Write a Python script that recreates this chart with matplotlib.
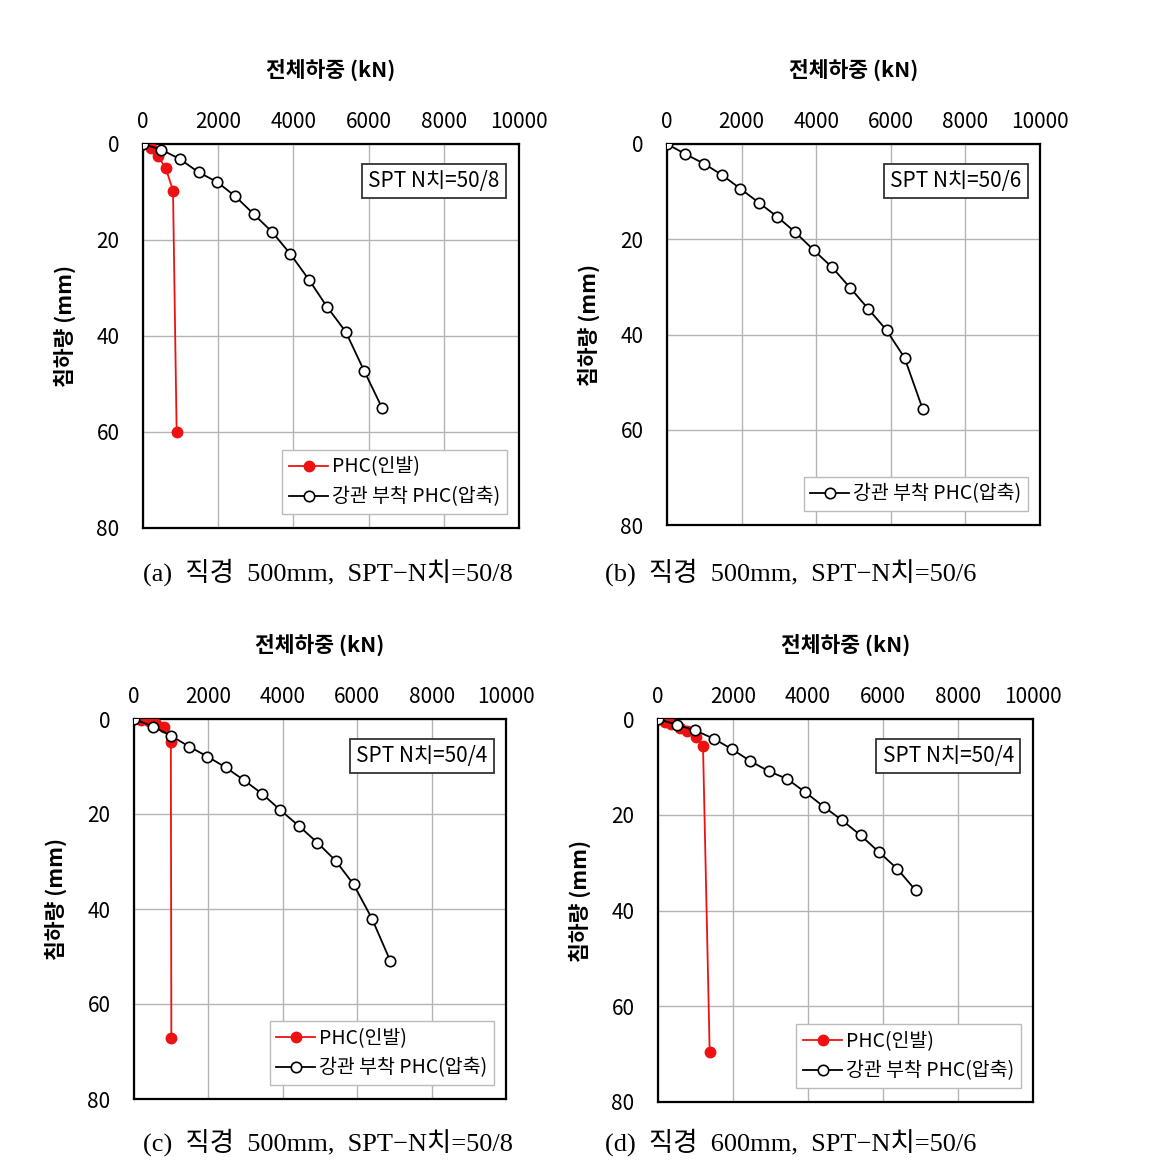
import matplotlib
matplotlib.use("Agg")
import matplotlib.pyplot as plt

plt.rcParams['font.family'] = ['Noto Sans CJK KR', 'DejaVu Sans']

# (a) 직경 500mm, SPT-N치=50/8
a_red_x = [0, 204, 399, 603, 798, 895]
a_red_y = [0, 0.8, 2.6, 5.0, 9.7, 60.1]
a_blk_x = [0, 488, 975, 1480, 1968, 2456, 2943, 3431, 3918, 4415, 4902, 5390, 5878, 6365]
a_blk_y = [0, 1.2, 3.1, 5.9, 7.9, 10.9, 14.6, 18.3, 22.9, 28.3, 34.0, 39.1, 47.2, 55.1]

# (b) 직경 500mm, SPT-N치=50/6
b_blk_x = [0, 490, 984, 1476, 1968, 2460, 2960, 3435, 3935, 4428, 4911, 5394, 5886, 6369, 6852]
b_blk_y = [0, 2.1, 4.1, 6.5, 9.4, 12.3, 15.3, 18.5, 22.3, 25.9, 30.2, 34.6, 39.1, 44.9, 55.6]

# (c)
c_red_x = [0, 200, 400, 600, 800, 990, 1004]
c_red_y = [0, 0.2, 0.5, 1.0, 1.6, 4.8, 67.1]
c_blk_x = [0, 511, 987, 1480, 1973, 2466, 2960, 3453, 3937, 4430, 4924, 5417, 5901, 6395, 6888]
c_blk_y = [0, 1.6, 3.5, 5.8, 7.9, 10.2, 12.9, 15.8, 19.2, 22.5, 26.0, 29.8, 34.8, 42.0, 50.9]

# (d) 직경 600mm
d_red_x = [0, 178, 356, 578, 773, 1004, 1200, 1378]
d_red_y = [0, 0.6, 1.0, 1.8, 2.6, 3.8, 5.6, 69.6]
d_blk_x = [0, 498, 996, 1484, 1973, 2462, 2951, 3440, 3929, 4418, 4916, 5404, 5893, 6382, 6871]
d_blk_y = [0, 1.2, 2.4, 4.1, 6.3, 8.8, 10.9, 12.5, 15.3, 18.3, 21.2, 24.3, 27.8, 31.3, 35.8]

spt_labels = ['SPT N치=50/8', 'SPT N치=50/6', 'SPT N치=50/4', 'SPT N치=50/4']
captions = ['(a)  직경  500mm,  SPT−N치=50/8', '(b)  직경  500mm,  SPT−N치=50/6',
            '(c)  직경  500mm,  SPT−N치=50/8', '(d)  직경  600mm,  SPT−N치=50/6']
red_name = 'PHC(인발)'
blk_name = '강관 부착 PHC(압축)'

W, H = 1153, 1171
fig = plt.figure(figsize=(W / 100, H / 100), dpi=100)

# axes boxes in pixels: left, top, right, bottom
boxes = [(143, 144, 519, 528), (667, 144, 1040, 525),
         (134, 719, 506, 1099), (658, 719, 1033, 1102)]
series = [
    (a_red_x, a_red_y, a_blk_x, a_blk_y),
    (None, None, b_blk_x, b_blk_y),
    (c_red_x, c_red_y, c_blk_x, c_blk_y),
    (d_red_x, d_red_y, d_blk_x, d_blk_y),
]
caption_pos = [(328, 572), (791, 572), (328, 1142), (791, 1142)]

for i in range(4):
    l, t, r, b = boxes[i]
    ax = fig.add_axes([l / W, 1 - b / H, (r - l) / W, (b - t) / H])
    rx, ry, bx, by = series[i]
    if rx is not None:
        ax.plot(rx, ry, color='#ee1111', marker='o', markersize=7.5,
                linewidth=1.3, label=red_name, zorder=3)
    ax.plot(bx, by, color='black', marker='o', markersize=7.5,
            markerfacecolor='white', markeredgecolor='black', markeredgewidth=1.2,
            linewidth=1.3, label=blk_name, zorder=4)

    ax.set_xlim(0, 10000)
    ax.set_ylim(80, 0)
    ax.set_xticks([0, 2000, 4000, 6000, 8000, 10000])
    ax.set_yticks([0, 20, 40, 60, 80])
    ax.xaxis.tick_top()
    ax.tick_params(axis='x', length=0, pad=8, labelsize=15)
    ax.tick_params(axis='y', length=0, pad=17, labelsize=15)
    ax.grid(True, color='#b4b4b4', linewidth=1.0)
    ax.set_axisbelow(True)
    for s in ax.spines.values():
        s.set_linewidth(1.6)

    ax.text(0.774, 0.903, spt_labels[i], transform=ax.transAxes, fontsize=15,
            ha='center', va='center', zorder=5,
            bbox=dict(boxstyle='square,pad=0.3', facecolor='white',
                      edgecolor='#333333', linewidth=1.3))

    leg = ax.legend(loc='lower right', bbox_to_anchor=(0.968, 0.036),
                    fontsize=14, fancybox=False, framealpha=1, edgecolor='#bbbbbb',
                    handlelength=2.0, handletextpad=0.2, borderpad=0.35,
                    labelspacing=0.45, borderaxespad=0)
    leg.get_frame().set_linewidth(1.0)

    cx = (l + r) / 2
    fig.text(cx / W, 1 - (t - 74) / H, '전체하중 (kN)', fontsize=15.5, fontweight='bold',
             ha='center', va='center')
    fig.text((l - 78) / W, 1 - ((t + b) / 2 - 10) / H, '침하량 (mm)', fontsize=15.5,
             fontweight='bold', rotation=90, ha='center', va='center')

    px, py = caption_pos[i]
    fig.text(px / W, 1 - py / H, captions[i], fontsize=19, ha='center', va='center',
             family=['Liberation Serif', 'Noto Sans CJK KR'])

fig.savefig('out.png', dpi=100)
